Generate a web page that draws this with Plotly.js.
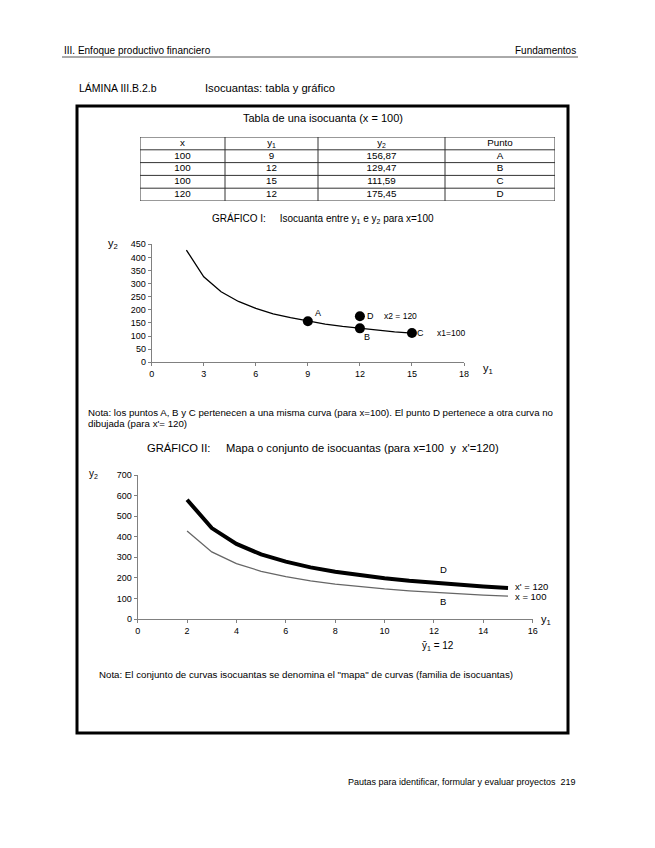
<!DOCTYPE html>
<html>
<head>
<meta charset="utf-8">
<script src="https://cdn.plot.ly/plotly-3.0.1.min.js"></script>
<style>html,body{margin:0;padding:0;background:#fff;}#chart{width:655px;height:848px;}</style>
</head>
<body>
<div id="chart"></div>
<script>
// ---- data ----
const tableHeader = ['x', 'y<sub>1</sub>', 'y<sub>2</sub>', 'Punto'];
const tableX = [100, 100, 100, 120];
const tableY1 = [9, 12, 15, 12];
const tableY2 = [156.87, 129.47, 111.59, 175.45];
const tablePunto = ['A', 'B', 'C', 'D'];

const curveY1 = [2, 3, 4, 5, 6, 7, 8, 9, 10, 11, 12, 13, 14, 15];
const curveX100 = [428, 326, 269, 232, 206, 185, 170, 156.87, 146, 137, 129.47, 123, 116, 111.59];
const curveX120 = [580, 442, 365, 314, 279, 251, 230, 213, 198, 186, 175.46, 166, 158, 151];

const pointLabels = ['A', 'B', 'C', 'D'];
const pointY1 = [9, 12, 15, 12];
const pointY2 = [156.87, 129.47, 111.59, 175.46];

const ticks1X = [0, 3, 6, 9, 12, 15, 18];
const ticks1Y = [0, 50, 100, 150, 200, 250, 300, 350, 400, 450];
const ticks2X = [0, 2, 4, 6, 8, 10, 12, 14, 16];
const ticks2Y = [0, 100, 200, 300, 400, 500, 600, 700];

// ---- helpers / styles ----
const W = 655, H = 848;
const px = v => v / W;
const py = v => 1 - v / H;
const fmt = v => v.toFixed(2).replace('.', ',');
const F = 'Liberation Sans, Arial, sans-serif';
const FN = 'Liberation Sans Narrow, Liberation Sans, Arial, sans-serif';
const NB = '\u00a0';
const colWidths = [85, 93, 127, 110];

// ---- table built from the arrays (text marks on a hidden axis) ----
const tableCols = [tableX.map(String), tableY1.map(String), tableY2.map(fmt), tablePunto];
const colEdges = [0];
colWidths.forEach(w => colEdges.push(colEdges[colEdges.length - 1] + w));
const nRows = tableX.length + 1;
const cellX = [], cellY = [], cellT = [];
tableCols.forEach((col, c) => {
  const cx = (colEdges[c] + colEdges[c + 1]) / 2;
  cellX.push(cx); cellY.push(0.5); cellT.push(tableHeader[c]);
  col.forEach((v, r) => { cellX.push(cx); cellY.push(r + 1.5); cellT.push(v); });
});

const traces = [
  {
    type: 'scatter', mode: 'text', x: cellX, y: cellY, text: cellT,
    xaxis: 'x3', yaxis: 'y3', textposition: 'middle center',
    textfont: {family: F, size: 9.8, color: '#000'}, hoverinfo: 'skip', cliponaxis: false
  },
  {
    type: 'scatter', mode: 'lines', x: curveY1, y: curveX100,
    xaxis: 'x', yaxis: 'y',
    line: {color: '#000', width: 1.3}, hoverinfo: 'skip'
  },
  {
    type: 'scatter', mode: 'markers', x: pointY1, y: pointY2,
    xaxis: 'x', yaxis: 'y',
    marker: {color: '#000', size: 10}, hoverinfo: 'skip'
  },
  {
    type: 'scatter', mode: 'lines', x: curveY1, y: curveX100,
    xaxis: 'x2', yaxis: 'y2',
    line: {color: '#666', width: 1.3}, hoverinfo: 'skip'
  },
  {
    type: 'scatter', mode: 'lines', x: curveY1, y: curveX120,
    xaxis: 'x2', yaxis: 'y2',
    line: {color: '#000', width: 4}, hoverinfo: 'skip'
  }
];

const axisCommon = {
  showgrid: false, zeroline: false, showline: true,
  linecolor: '#808080', linewidth: 1,
  ticks: 'outside', ticklen: 3, tickcolor: '#808080',
  tickfont: {family: F, size: 9, color: '#000'},
  fixedrange: true
};
const hiddenAxis = {visible: false, showgrid: false, zeroline: false, fixedrange: true};

const annotations = [];
function txt(text, x, y, opts) {
  annotations.push(Object.assign({
    text: text, x: x, y: y, xref: 'paper', yref: 'paper',
    showarrow: false, xanchor: 'left', yanchor: 'middle',
    font: {family: F, size: 9, color: '#000'}
  }, opts || {}));
}

// page header
txt('III. Enfoque productivo financiero', px(62), py(50), {font: {family: FN, size: 10, color: '#000'}});
txt('Fundamentos', px(578), py(50), {xanchor: 'right', font: {family: FN, size: 10, color: '#000'}});
txt('LÁMINA III.B.2.b', px(77), py(88), {font: {family: F, size: 10.5, color: '#000'}});
txt('Isocuantas: tabla y gráfico', px(203), py(88), {font: {family: F, size: 11.2, color: '#000'}});

// table title
txt('Tabla de una isocuanta (x = 100)', px(323), py(118), {xanchor: 'center', font: {family: F, size: 11, color: '#000'}});

// chart 1
txt('GRÁFICO I:' + NB.repeat(5) + 'Isocuanta entre y<sub>1</sub> e y<sub>2</sub> para x=100', px(323), py(219), {xanchor: 'center', font: {family: F, size: 10, color: '#000'}});
txt('y<sub>2</sub>', px(113), py(244), {xanchor: 'center', font: {family: F, size: 11, color: '#000'}});
txt('y<sub>1</sub>', px(488), py(369), {xanchor: 'center', font: {family: F, size: 11, color: '#000'}});
const labelPos1 = {A: [9.6, 188], B: [12.4, 97], C: [15.5, 112], D: [12.6, 177]};
pointLabels.forEach(l => {
  annotations.push({text: l, x: labelPos1[l][0], y: labelPos1[l][1], xref: 'x', yref: 'y',
    showarrow: false, xanchor: 'center', yanchor: 'middle', font: {family: F, size: 9, color: '#000'}});
});
annotations.push({text: 'x2 = 120', x: 13.25, y: 177, xref: 'x', yref: 'y', showarrow: false,
  xanchor: 'left', yanchor: 'middle', font: {family: F, size: 8.5, color: '#000'}});
annotations.push({text: 'x1=100', x: 16.35, y: 112, xref: 'x', yref: 'y', showarrow: false,
  xanchor: 'left', yanchor: 'middle', font: {family: F, size: 8.5, color: '#000'}});

// note 1
txt('Nota: los puntos A, B y C pertenecen a una misma curva (para x=100). El punto D pertenece a otra curva no', px(86), py(412), {font: {family: F, size: 9.7, color: '#000'}});
txt('dibujada (para x\'= 120)', px(86), py(423), {font: {family: F, size: 9.7, color: '#000'}});

// chart 2
txt('GRÁFICO II:' + NB.repeat(5) + 'Mapa o conjunto de isocuantas (para x=100' + NB + ' y ' + NB + 'x\'=120)', px(323), py(448), {xanchor: 'center', font: {family: F, size: 11.2, color: '#000'}});
txt('y<sub>2</sub>', px(93), py(474), {xanchor: 'center', font: {family: F, size: 10, color: '#000'}});
txt('y<sub>1</sub>', px(546), py(620), {xanchor: 'center', font: {family: F, size: 11, color: '#000'}});
txt('ȳ<sub>1</sub> = 12', px(438), py(646), {xanchor: 'center', font: {family: F, size: 10, color: '#000'}});
annotations.push({text: 'D', x: 12.37, y: 243, xref: 'x2', yref: 'y2', showarrow: false,
  xanchor: 'center', yanchor: 'middle', font: {family: F, size: 9.5, color: '#000'}});
annotations.push({text: 'B', x: 12.37, y: 83, xref: 'x2', yref: 'y2', showarrow: false,
  xanchor: 'center', yanchor: 'middle', font: {family: F, size: 9.5, color: '#000'}});
annotations.push({text: 'x\' = 120', x: 15.2, y: 158, xref: 'x2', yref: 'y2', showarrow: false,
  xanchor: 'left', yanchor: 'middle', font: {family: F, size: 9.5, color: '#000'}});
annotations.push({text: 'x = 100', x: 15.2, y: 108, xref: 'x2', yref: 'y2', showarrow: false,
  xanchor: 'left', yanchor: 'middle', font: {family: F, size: 9.5, color: '#000'}});

// note 2
txt('Nota: El conjunto de curvas isocuantas se denomina el "mapa" de curvas (familia de isocuantas)', px(97), py(674), {font: {family: F, size: 9.7, color: '#000'}});

// footer
txt('Pautas para identificar, formular y evaluar proyectos' + NB + NB + '219', px(578), py(782), {xanchor: 'right', font: {family: FN, size: 9, color: '#000'}});

// frame, header rule and table grid lines
const shapes = [
  {type: 'line', xref: 'paper', yref: 'paper', x0: px(62), x1: px(578), y0: py(57), y1: py(57), line: {color: '#555', width: 1}},
  {type: 'rect', xref: 'paper', yref: 'paper', x0: px(77), x1: px(568), y0: py(106), y1: py(733), line: {color: '#000', width: 3}}
];
for (let r = 0; r <= nRows; r++) {
  shapes.push({type: 'line', xref: 'x3', yref: 'y3', x0: 0, x1: colEdges[colEdges.length - 1], y0: r, y1: r, line: {color: '#333', width: 1}});
}
colEdges.forEach(e => {
  shapes.push({type: 'line', xref: 'x3', yref: 'y3', x0: e, x1: e, y0: 0, y1: nRows, line: {color: '#333', width: 1}});
});

const layout = {
  width: W, height: H,
  margin: {l: 0, r: 0, t: 0, b: 0},
  paper_bgcolor: '#fff', plot_bgcolor: 'rgba(0,0,0,0)',
  showlegend: false,
  xaxis: Object.assign({}, axisCommon, {domain: [px(151.7), px(464)], range: [0, 18], tickvals: ticks1X, anchor: 'y'}),
  yaxis: Object.assign({}, axisCommon, {domain: [py(362.3), py(244.3)], range: [0, 450], tickvals: ticks1Y, anchor: 'x'}),
  xaxis2: Object.assign({}, axisCommon, {domain: [px(137.7), px(532.7)], range: [0, 16], tickvals: ticks2X, anchor: 'y2'}),
  yaxis2: Object.assign({}, axisCommon, {domain: [py(619), py(475)], range: [0, 700], tickvals: ticks2Y, anchor: 'x2'}),
  xaxis3: Object.assign({}, hiddenAxis, {domain: [px(140), px(555)], range: [0, colEdges[colEdges.length - 1]], anchor: 'y3'}),
  yaxis3: Object.assign({}, hiddenAxis, {domain: [py(201), py(137)], range: [nRows, 0], anchor: 'x3'}),
  annotations: annotations,
  shapes: shapes
};

Plotly.newPlot('chart', traces, layout, {staticPlot: true, displayModeBar: false});
</script>
</body>
</html>
